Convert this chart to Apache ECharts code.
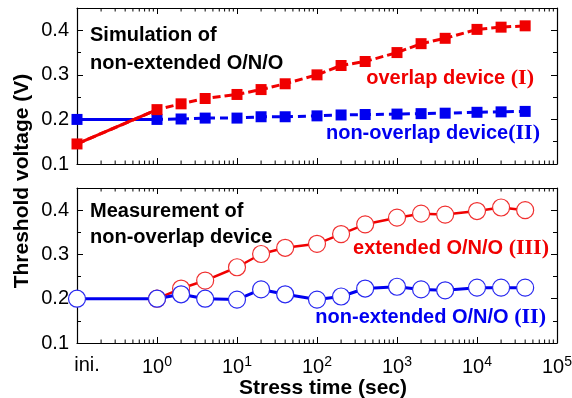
<!DOCTYPE html>
<html>
<head>
<meta charset="utf-8">
<script src="https://cdn.jsdelivr.net/npm/echarts@6/dist/echarts.min.js"></script>
<style>
  html, body { margin: 0; padding: 0; background: #fff; }
  #chart { width: 572px; height: 398px; }
</style>
</head>
<body>
<div id="chart"></div>
<script>
// stress times (sec); 0.1 stands for the "ini." position on the log axis
var times = [0.1, 1, 2, 4, 10, 20, 40, 100, 200, 400, 1000, 2000, 4000, 1e4, 2e4, 4e4];
// simulation of non-extended O/N/O
var simOverlap = [0.145, 0.222, 0.235, 0.247, 0.256, 0.267, 0.28, 0.30, 0.321, 0.33, 0.35, 0.37, 0.382, 0.402, 0.407, 0.41];
var simNonOverlap = [0.2, 0.2, 0.201, 0.203, 0.203, 0.206, 0.206, 0.208, 0.21, 0.211, 0.212, 0.213, 0.214, 0.216, 0.217, 0.218];
// measurement of non-overlap device
var measExtended = [null, 0.2, 0.223, 0.241, 0.271, 0.301, 0.315, 0.324, 0.346, 0.368, 0.383, 0.392, 0.39, 0.398, 0.406, 0.4];
var measNonExtended = [0.2, 0.2, 0.21, 0.2, 0.198, 0.221, 0.21, 0.198, 0.205, 0.223, 0.227, 0.221, 0.219, 0.225, 0.225, 0.225];
// axis ticks
var yTicks = [0.1, 0.2, 0.3, 0.4];
var decades = [-1, 0, 1, 2, 3, 4];
var minorTicks = [];
decades.forEach(function (d) {
  for (var k = 2; k <= 9; k++) minorTicks.push(k * Math.pow(10, d));
});

var RED = "#f00000";
var BLUE = "#0000f0";
var FONT = "Liberation Sans";

function pairs(ys, from, to) {
  var out = [];
  for (var i = from; i <= to; i++) {
    if (ys[i] != null) out.push([times[i], ys[i]]);
  }
  return out;
}

function xAx(grid, pos, labels) {
  return {
    type: "log",
    logBase: 10,
    gridIndex: grid,
    position: pos,
    min: 0.1,
    max: 1e5,
    splitNumber: 6,
    axisLine: { show: true, onZero: false, lineStyle: { color: "#000", width: 1.2 } },
    axisTick: { show: true, inside: true, length: 6, lineStyle: { color: "#000", width: 1 } },
    splitLine: { show: false },
    axisLabel: {
      show: labels,
      margin: 12,
      color: "#000",
      fontFamily: FONT,
      formatter: function (v) {
        var e = Math.round(Math.log10(v));
        if (e === -1) return "{ini|ini.}";
        return "{b|10}{sup|" + e + "}";
      },
      rich: {
        ini: { fontSize: 20, fontFamily: FONT, color: "#000", padding: [0, 0, 0, 20] },
        b: { fontSize: 20, fontFamily: FONT, color: "#000" },
        sup: { fontSize: 14, fontFamily: FONT, color: "#000", padding: [0, 0, 10, 0] }
      }
    }
  };
}

function yAx(grid, pos, labels) {
  return {
    type: "value",
    gridIndex: grid,
    position: pos,
    min: yTicks[0],
    max: 0.45,
    interval: 0.1,
    axisLine: { show: true, lineStyle: { color: "#000", width: 1.2 } },
    axisTick: { show: true, inside: true, length: 6, lineStyle: { color: "#000" } },
    minorTick: { show: true, splitNumber: 2, length: 4, lineStyle: { color: "#000" } },
    splitLine: { show: false },
    axisLabel: {
      show: labels,
      showMaxLabel: false,
      margin: 8,
      color: "#000",
      fontSize: 20,
      fontFamily: FONT,
      formatter: function (v) { return v.toFixed(1); }
    }
  };
}

function minorTickSeries(xIdx, yIdx) {
  return {
    type: "custom",
    xAxisIndex: xIdx,
    yAxisIndex: yIdx,
    silent: true,
    clip: false,
    z: 1,
    data: minorTicks.map(function (v) { return [v, 0.1]; }),
    renderItem: function (params, api) {
      var b = api.coord([api.value(0), 0.1]);
      var t = api.coord([api.value(0), 0.45]);
      var st = { stroke: "#000", lineWidth: 1 };
      return {
        type: "group",
        children: [
          { type: "line", shape: { x1: b[0], y1: b[1], x2: b[0], y2: b[1] - 3.5 }, style: st },
          { type: "line", shape: { x1: t[0], y1: t[1], x2: t[0], y2: t[1] + 3.5 }, style: st }
        ]
      };
    }
  };
}

var chart = echarts.init(document.getElementById("chart"));
chart.setOption({
  backgroundColor: "#fff",
  animation: false,
  grid: [
    { left: 77, right: 15, top: 8, height: 156, outerBoundsMode: "none" },
    { left: 77, right: 15, top: 188, height: 155, outerBoundsMode: "none" }
  ],
  xAxis: [
    xAx(0, "bottom", false),
    xAx(0, "top", false),
    Object.assign(xAx(1, "bottom", true), {
      name: "Stress time (sec)",
      nameLocation: "middle",
      nameGap: 35,
      nameTextStyle: { fontFamily: FONT, fontSize: 21, fontWeight: "bold", color: "#000", padding: [0, 0, 0, 12] }
    }),
    xAx(1, "top", false)
  ],
  yAxis: [
    yAx(0, "left", true),
    yAx(0, "right", false),
    yAx(1, "left", true),
    yAx(1, "right", false)
  ],
  series: [
    minorTickSeries(0, 0),
    minorTickSeries(2, 2),
    // top panel: blue below red
    {
      name: "non-overlap device(II)", type: "line", xAxisIndex: 0, yAxisIndex: 0,
      data: pairs(simNonOverlap, 0, 1), symbol: "none", clip: false,
      lineStyle: { color: BLUE, width: 3 }
    },
    {
      name: "non-overlap device(II)", type: "line", xAxisIndex: 0, yAxisIndex: 0,
      data: pairs(simNonOverlap, 0, times.length - 1), clip: false,
      symbol: "rect", symbolSize: 11,
      itemStyle: { color: BLUE },
      lineStyle: { color: BLUE, width: 3, type: [8, 5] },
      showAllSymbol: true
    },
    {
      name: "overlap device (I)", type: "line", xAxisIndex: 0, yAxisIndex: 0,
      data: pairs(simOverlap, 0, 1), symbol: "none", clip: false,
      lineStyle: { color: RED, width: 3 }
    },
    {
      name: "overlap device (I)", type: "line", xAxisIndex: 0, yAxisIndex: 0,
      data: pairs(simOverlap, 0, times.length - 1), clip: false,
      symbol: "rect", symbolSize: 11,
      itemStyle: { color: RED },
      lineStyle: { color: RED, width: 3, type: [8, 4] },
      showAllSymbol: true
    },
    // bottom panel: red below blue
    {
      name: "extended O/N/O (III)", type: "line", xAxisIndex: 2, yAxisIndex: 2,
      data: pairs(measExtended, 0, times.length - 1), clip: false,
      symbol: "circle", symbolSize: 17,
      itemStyle: { color: "#fff", borderColor: "#f03030", borderWidth: 1.2 },
      lineStyle: { color: RED, width: 2.5 },
      showAllSymbol: true
    },
    {
      name: "non-extended O/N/O (II)", type: "line", xAxisIndex: 2, yAxisIndex: 2,
      data: pairs(measNonExtended, 0, times.length - 1), clip: false,
      symbol: "circle", symbolSize: 17,
      itemStyle: { color: "#fff", borderColor: "#2828f0", borderWidth: 1.2 },
      lineStyle: { color: BLUE, width: 3 },
      showAllSymbol: true
    }
  ],
  graphic: [
    {
      type: "text", x: 22, y: 181, rotation: Math.PI / 2,
      style: { text: "Threshold voltage (V)", fontFamily: FONT, fontSize: 21, fontWeight: "bold",
        fill: "#000", align: "center", verticalAlign: "middle" }
    },
    {
      type: "text", x: 90, y: 49,
      style: { text: "Simulation of\nnon-extended O/N/O", fontFamily: FONT, fontSize: 20, fontWeight: "bold",
        fill: "#000", lineHeight: 28, verticalAlign: "middle" }
    },
    {
      type: "text", x: 90, y: 224,
      style: { text: "Measurement of\nnon-overlap device", fontFamily: FONT, fontSize: 20, fontWeight: "bold",
        fill: "#000", lineHeight: 26, verticalAlign: "middle" }
    },
    {
      type: "text", x: 534, y: 78,
      style: { text: "overlap device {r|(I)}", fontFamily: FONT, fontSize: 20, fontWeight: "bold",
        fill: RED, align: "right", verticalAlign: "middle",
        rich: { r: { fontFamily: "Liberation Serif", fontSize: 22, fontWeight: "bold", fill: RED } } }
    },
    {
      type: "text", x: 540, y: 133,
      style: { text: "non-overlap device{r|(II)}", fontFamily: FONT, fontSize: 20, fontWeight: "bold",
        fill: BLUE, align: "right", verticalAlign: "middle",
        rich: { r: { fontFamily: "Liberation Serif", fontSize: 22, fontWeight: "bold", fill: BLUE } } }
    },
    {
      type: "text", x: 549, y: 248,
      style: { text: "extended O/N/O {r|(III)}", fontFamily: FONT, fontSize: 20, fontWeight: "bold",
        fill: RED, align: "right", verticalAlign: "middle",
        rich: { r: { fontFamily: "Liberation Serif", fontSize: 22, fontWeight: "bold", fill: RED } } }
    },
    {
      type: "text", x: 546, y: 317,
      style: { text: "non-extended O/N/O {r|(II)}", fontFamily: FONT, fontSize: 20, fontWeight: "bold",
        fill: BLUE, align: "right", verticalAlign: "middle",
        rich: { r: { fontFamily: "Liberation Serif", fontSize: 22, fontWeight: "bold", fill: BLUE } } }
    }
  ]
});
window.addEventListener("resize", function () { chart.resize(); });
</script>
</body>
</html>
